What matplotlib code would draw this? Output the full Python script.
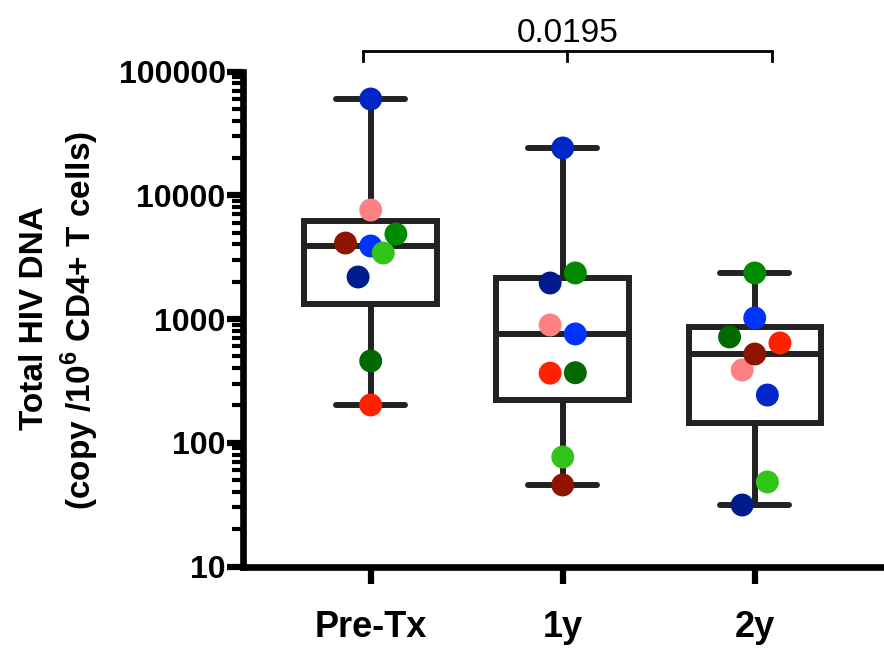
import numpy as np
import matplotlib
matplotlib.use("Agg")
import matplotlib.pyplot as plt
from matplotlib.ticker import FixedLocator, LogLocator, NullFormatter
import matplotlib.transforms as mtransforms

plt.rcParams['font.family'] = ['Liberation Sans', 'DejaVu Sans']
plt.rcParams['mathtext.fontset'] = 'custom'
plt.rcParams['mathtext.rm'] = 'Liberation Sans'
plt.rcParams['mathtext.bf'] = 'Liberation Sans:bold'

# ---------------- data ----------------
categories = ["Pre-Tx", "1y", "2y"]
patient_colors = ["#001c8c", "#ff8080", "#0026c8", "#0033ff", "#008a00",
                  "#33c41a", "#8f1400", "#ff2200", "#006a00"]
pre_tx = [2185, 7600, 59950, 3890, 4860, 3415, 4110, 202, 458]
year1 = [1954, 895, 24100, 757, 2355, 76.7, 45.6, 365, 368]
year2 = [31.4, 387, 243, 1019, 2355, 48.2, 521, 640, 716]
y_ticks = [10, 100, 1000, 10000, 100000]
p_value_label = "0.0195"
comparison = (0, 2)
y_label_1 = "Total HIV DNA"
y_label_2 = r"(copy /10$^{\mathbf{6}}$ CD4+ T cells)"

groups = [pre_tx, year1, year2]

# ---------------- figure ----------------
W, H, DPI = 884, 648, 100
fig = plt.figure(figsize=(W / DPI, H / DPI), dpi=DPI)
ax = fig.add_axes([243 / W, (H - 566.5) / H, (W - 243) / W, (566.5 - 71.5) / H])
ax.set_yscale('log')
ax.set_ylim(10, 100000)
ax.set_xlim(-0.665, 2.673)

box_color = "#222222"
lw_box = 4.3
stats = []
for v in groups:
    q1, med, q3 = np.percentile(v, [25, 50, 75], method='weibull')
    stats.append(dict(med=med, q1=q1, q3=q3, whislo=min(v), whishi=max(v), fliers=[]))
ax.bxp(stats, positions=range(len(groups)), widths=0.69, capwidths=0.36,
       showfliers=False, manage_ticks=False,
       boxprops=dict(color=box_color, linewidth=lw_box, solid_joinstyle='miter'),
       medianprops=dict(color=box_color, linewidth=lw_box, solid_capstyle='butt'),
       whiskerprops=dict(color=box_color, linewidth=lw_box),
       capprops=dict(color=box_color, linewidth=lw_box, solid_capstyle='round'),
       zorder=2)

# ---------------- swarm layout ----------------
marker_pt = 16.5
diam_px = marker_pt * DPI / 72.0
thresh_px = 1.15 * diam_px
step_px = 1.1 * diam_px
px_per_unit = (ax.transData.transform((1, 10))[0] - ax.transData.transform((0, 10))[0])


def swarm_x(center, values):
    vals = np.asarray(values, dtype=float)
    disp = ax.transData.transform(np.column_stack([np.full(len(vals), center), vals]))[:, 1]
    order = np.argsort(disp, kind='stable')
    xs = np.full(len(vals), float(center))
    i = 0
    while i < len(order):
        start = disp[order[i]]
        members = [order[i]]
        j = i + 1
        while j < len(order) and disp[order[j]] - start < thresh_px:
            members.append(order[j])
            j += 1
        members = sorted(members)
        n = len(members)
        for k, m in enumerate(members):
            slot = ((n - 1) // 2 + k) % n
            xs[m] = center + (slot - (n - 1) / 2.0) * step_px / px_per_unit
        i = j
    return xs


for gi, v in enumerate(groups):
    xs = swarm_x(gi, v)
    ax.scatter(xs, v, s=marker_pt ** 2, c=patient_colors, linewidths=0, zorder=3,
               clip_on=False)

# ---------------- axes styling ----------------
for side in ("top", "right"):
    ax.spines[side].set_visible(False)
for side in ("left", "bottom"):
    ax.spines[side].set_linewidth(4.8)
    ax.spines[side].set_color("black")

ax.set_xticks(range(len(categories)), categories, fontsize=26, fontweight='bold')
ax.yaxis.set_major_locator(FixedLocator(y_ticks))
ax.set_yticks(y_ticks, [str(t) for t in y_ticks], fontsize=23, fontweight='bold')
ax.yaxis.set_minor_locator(LogLocator(base=10, subs=np.arange(2, 10)))
ax.yaxis.set_minor_formatter(NullFormatter())
ax.tick_params(axis='y', which='major', length=11.5, width=4.5, pad=1, color='black')
ax.tick_params(axis='y', which='minor', length=8, width=3, color='black')
ax.tick_params(axis='x', which='major', length=12, width=4.5, pad=19, color='black')
ax.tick_params(axis='x', which='minor', length=0)

# y label (two lines)
fig.text(35 / W, (H - 318) / H, y_label_1, rotation=90, ha='center', va='center',
         fontsize=24, fontweight='bold')
fig.text(80 / W, (H - 320) / H, y_label_2, rotation=90, ha='center', va='center',
         fontsize=24, fontweight='bold')

# significance bracket
trans = mtransforms.blended_transform_factory(ax.transData, ax.transAxes)
xa, xb = comparison[0] - 0.04, comparison[1] + 0.089
xm = (xa + xb) / 2
ytop, ybot = 1.0414, 1.0212
ax.plot([xa, xa, xb, xb], [ybot, ytop, ytop, ybot], color='black', lw=2,
        transform=trans, clip_on=False, solid_joinstyle='miter')
ax.plot([xm, xm], [ytop, ybot], color='black', lw=2, transform=trans, clip_on=False)
ax.text(xm, 1.0596, p_value_label, transform=trans, ha='center', va='baseline',
        fontsize=24)

fig.savefig("out.png", dpi=DPI)
